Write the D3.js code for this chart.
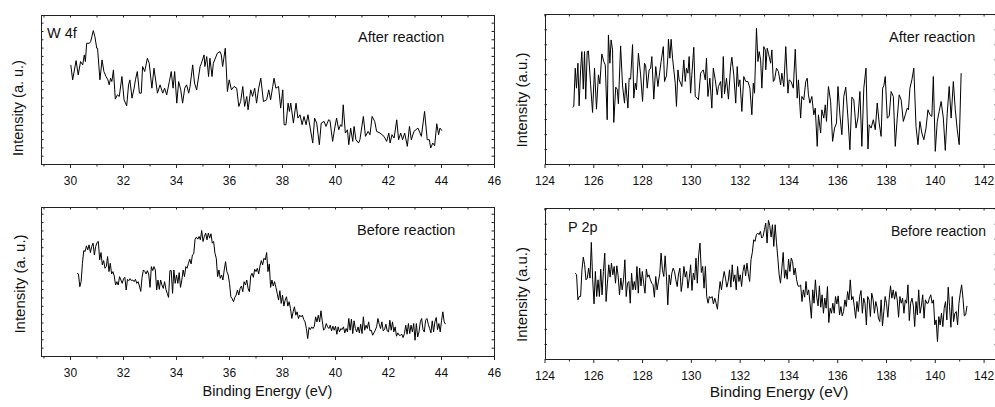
<!DOCTYPE html>
<html>
<head>
<meta charset="utf-8">
<script src="https://cdn.jsdelivr.net/npm/d3@7"></script>
<style>
  body { margin: 0; background: #fff; }
  svg { display: block; font-family: Arial, "Liberation Sans", sans-serif; }
</style>
</head>
<body>
<script>
var WIDTH = 995;
var HEIGHT = 407;

// W 4f, after reaction (binding energy in eV, intensity in a.u.)
var w4fAfterE = [
  30.03,30.10,30.23,30.31,30.40,30.48,30.54,30.58,30.63,30.73,
  30.78,30.88,30.94,31.01,31.04,31.13,31.21,31.28,31.36,31.43,
  31.48,31.53,31.58,31.64,31.71,31.79,31.86,31.96,32.04,32.14,
  32.21,32.26,32.34,32.42,32.47,32.54,32.62,32.69,32.74,32.82,
  32.92,32.99,33.09,33.17,33.30,33.40,33.50,33.57,33.65,33.75,
  33.82,33.89,33.95,34.03,34.10,34.18,34.25,34.33,34.40,34.48,
  34.53,34.63,34.70,34.78,34.91,34.96,35.06,35.09,35.16,35.23,
  35.28,35.36,35.41,35.56,35.66,35.71,35.76,35.86,35.94,36.01,
  36.09,36.19,36.29,36.37,36.44,36.52,36.59,36.67,36.72,36.82,
  36.89,36.97,37.04,37.12,37.20,37.30,37.42,37.50,37.57,37.65,
  37.70,37.77,37.87,37.95,38.03,38.08,38.15,38.23,38.28,38.33,
  38.43,38.53,38.60,38.68,38.76,38.83,38.91,38.98,39.16,39.23,
  39.31,39.41,39.48,39.59,39.66,39.76,39.81,39.91,39.99,40.06,
  40.14,40.21,40.26,40.31,40.39,40.47,40.52,40.59,40.67,40.72,
  40.79,40.89,40.94,41.07,41.15,41.25,41.32,41.40,41.50,41.57,
  41.70,41.85,41.95,42.03,42.08,42.15,42.23,42.33,42.40,42.48,
  42.55,42.63,42.73,42.81,42.88,42.98,43.13,43.26,43.38,43.48,
  43.56,43.61,43.69,43.76,43.84,43.91,43.96,44.04
];
var w4fAfterI = [
  298,253,311,268,308,298,328,308,363,363,
  368,401,383,348,348,253,313,278,263,253,
  238,258,248,283,195,208,203,263,193,175,
  238,253,198,228,253,278,213,213,293,278,
  318,303,228,288,213,238,213,228,208,248,
  278,228,278,183,248,223,183,228,238,213,
  233,298,243,223,293,303,328,293,323,263,
  318,263,303,333,338,328,293,348,218,253,
  223,233,228,173,188,233,173,203,163,223,
  203,228,183,228,258,188,193,223,193,233,
  258,228,233,168,223,118,118,183,158,183,
  123,183,138,148,118,143,118,148,63,138,
  123,58,123,128,113,133,131,68,108,138,
  103,118,113,178,93,103,58,108,68,113,
  73,63,73,143,83,98,88,143,128,98,
  93,83,68,93,63,88,78,133,73,93,
  73,93,53,113,73,98,108,83,158,73,
  73,48,63,55,121,88,108,100
];

// P 2p, after reaction
var p2pAfterE = [
  125.15,125.20,125.26,125.31,125.37,125.42,125.48,125.53,125.59,125.64,
  125.69,125.75,125.80,125.89,125.97,126.05,126.13,126.21,126.27,126.35,
  126.43,126.49,126.57,126.62,126.68,126.73,126.79,126.84,126.92,126.98,
  127.03,127.12,127.20,127.28,127.33,127.42,127.47,127.53,127.61,127.66,
  127.72,127.77,127.85,127.94,128.02,128.10,128.15,128.21,128.29,128.35,
  128.40,128.48,128.56,128.65,128.70,128.78,128.87,128.92,129.00,129.06,
  129.08,129.14,129.19,129.25,129.36,129.41,129.47,129.52,129.58,129.63,
  129.71,129.77,129.82,129.88,129.93,129.99,130.04,130.12,130.18,130.26,
  130.31,130.40,130.45,130.51,130.59,130.64,130.70,130.78,130.86,130.92,
  131.00,131.08,131.13,131.22,131.27,131.33,131.38,131.46,131.54,131.63,
  131.68,131.76,131.84,131.90,131.95,132.01,132.09,132.17,132.25,132.34,
  132.42,132.50,132.56,132.61,132.69,132.75,132.80,132.86,132.91,132.99,
  133.05,133.07,133.13,133.18,133.27,133.32,133.38,133.43,133.51,133.59,
  133.68,133.73,133.81,133.89,133.98,134.03,134.11,134.20,134.28,134.36,
  134.41,134.50,134.55,134.63,134.71,134.77,134.82,134.88,134.96,135.04,
  135.10,135.18,135.23,135.32,135.37,135.45,135.51,135.56,135.64,135.73,
  135.81,135.89,135.97,136.03,136.11,136.19,136.27,136.35,136.44,136.52,
  136.60,136.68,136.77,136.85,136.93,137.01,137.09,137.18,137.26,137.31,
  137.39,137.48,137.56,137.64,137.72,137.80,137.86,137.91,137.97,138.05,
  138.13,138.21,138.30,138.38,138.46,138.54,138.62,138.71,138.79,138.87,
  138.92,138.98,139.06,139.14,139.23,139.31,139.39,139.47,139.55,139.64,
  139.72,139.80,139.88,139.94,140.02,140.10,140.18,140.26,140.35,140.43,
  140.51,140.59,140.67,140.76,140.84,140.92,141.00,141.08
];
var p2pAfterI = [
  171,173,288,228,303,175,283,338,225,338,
  195,338,340,238,155,288,165,268,241,331,
  308,298,133,388,303,373,343,125,231,225,
  181,355,235,183,243,168,258,255,359,198,
  243,223,333,268,188,303,295,228,283,288,
  323,195,293,233,263,308,353,248,265,325,
  375,318,375,318,243,173,283,253,243,233,
  313,248,288,273,323,213,268,351,203,198,
  193,273,278,283,253,318,203,258,168,288,
  253,208,233,248,198,323,211,258,195,293,
  321,268,183,293,233,253,158,263,248,248,
  228,148,243,213,408,308,338,313,228,353,
  343,283,348,333,303,343,248,253,288,278,
  238,273,233,353,213,253,248,228,345,198,
  253,138,203,193,248,258,208,183,203,148,
  168,53,148,93,163,138,178,128,233,188,
  68,108,123,233,148,88,203,231,138,43,
  201,193,108,138,218,53,228,288,45,118,
  108,133,103,183,123,83,228,235,263,138,
  143,218,203,53,138,208,193,128,148,168,
  163,228,253,288,113,58,128,93,73,108,
  163,148,143,263,38,128,158,188,138,41,
  153,233,138,248,163,103,58,273
];

// W 4f, before reaction
var w4fBeforeE = [
  30.27,30.32,30.37,30.42,30.47,30.52,30.57,30.62,30.67,30.72,
  30.77,30.82,30.87,30.92,30.97,31.02,31.07,31.12,31.17,31.22,
  31.27,31.32,31.37,31.42,31.47,31.52,31.57,31.62,31.67,31.72,
  31.77,31.82,31.87,31.92,31.97,32.02,32.07,32.12,32.17,32.22,
  32.27,32.32,32.37,32.42,32.47,32.52,32.57,32.62,32.67,32.72,
  32.77,32.82,32.87,32.92,32.97,33.02,33.07,33.12,33.17,33.22,
  33.27,33.32,33.37,33.42,33.47,33.52,33.57,33.62,33.67,33.72,
  33.77,33.82,33.87,33.92,33.97,34.02,34.07,34.12,34.17,34.22,
  34.27,34.32,34.37,34.42,34.47,34.52,34.57,34.62,34.67,34.72,
  34.77,34.82,34.87,34.92,34.97,35.02,35.07,35.12,35.17,35.22,
  35.27,35.32,35.37,35.42,35.47,35.52,35.57,35.62,35.67,35.72,
  35.77,35.82,35.87,35.92,35.97,36.02,36.07,36.12,36.17,36.22,
  36.27,36.32,36.37,36.42,36.47,36.52,36.57,36.62,36.67,36.72,
  36.77,36.82,36.87,36.92,36.97,37.02,37.07,37.12,37.17,37.22,
  37.27,37.32,37.37,37.42,37.47,37.52,37.57,37.62,37.67,37.72,
  37.77,37.82,37.87,37.92,37.97,38.02,38.07,38.12,38.17,38.22,
  38.27,38.32,38.37,38.42,38.47,38.52,38.57,38.62,38.67,38.72,
  38.77,38.82,38.87,38.92,38.97,39.02,39.07,39.12,39.17,39.22,
  39.27,39.32,39.37,39.42,39.47,39.52,39.57,39.62,39.67,39.72,
  39.77,39.82,39.87,39.92,39.97,40.02,40.07,40.12,40.17,40.22,
  40.27,40.32,40.37,40.42,40.47,40.52,40.57,40.62,40.67,40.72,
  40.77,40.82,40.87,40.92,40.97,41.02,41.07,41.12,41.17,41.22,
  41.27,41.32,41.37,41.42,41.47,41.52,41.57,41.62,41.67,41.72,
  41.77,41.82,41.87,41.92,41.97,42.02,42.07,42.12,42.17,42.22,
  42.27,42.32,42.37,42.42,42.47,42.52,42.57,42.62,42.67,42.72,
  42.77,42.82,42.87,42.92,42.97,43.02,43.07,43.12,43.17,43.22,
  43.27,43.32,43.37,43.42,43.47,43.52,43.57,43.62,43.67,43.72,
  43.77,43.82,43.87,43.92,43.97,44.02,44.07,44.12,44.17
];
var w4fBeforeI = [
  247,245,207,222,277,315,312,329,317,332,
  309,327,337,302,327,339,342,287,309,272,
  285,262,267,297,252,277,245,252,239,212,
  222,212,237,227,217,231,235,197,229,225,
  231,225,227,222,229,217,222,209,193,235,
  257,253,245,255,245,205,267,255,267,257,
  197,227,199,227,212,202,222,199,187,175,
  255,255,187,257,217,242,217,249,205,227,
  257,237,267,262,277,289,275,302,305,349,
  355,349,357,347,375,342,357,367,347,367,
  352,365,337,342,307,292,237,257,232,242,
  227,257,282,252,242,217,177,171,162,175,
  182,197,182,202,209,192,222,212,227,202,
  192,239,247,235,259,252,262,245,269,285,
  272,292,287,309,252,275,205,227,209,222,
  205,187,167,195,157,182,149,167,177,149,
  162,142,112,132,147,122,132,112,122,117,
  122,109,102,82,52,85,79,87,82,89,
  117,102,122,102,135,105,77,82,97,87,
  82,92,75,89,77,89,65,87,72,82,
  79,87,69,82,72,112,77,110,67,105,
  82,72,87,69,95,67,117,77,92,82,
  102,75,77,62,69,77,87,112,95,82,
  102,75,79,95,75,72,107,77,102,72,
  87,59,69,62,62,65,55,67,92,65,
  97,67,92,72,97,47,97,57,72,102,
  112,79,72,107,112,95,82,69,105,72,
  102,115,79,97,72,105,132,102,95
];

// P 2p, before reaction
var p2pBeforeE = [
  125.26,125.315,125.37,125.425,125.48,125.535,125.59,125.645,125.7,125.755,
  125.81,125.865,125.92,125.975,126.03,126.085,126.14,126.195,126.25,126.305,
  126.36,126.415,126.47,126.525,126.58,126.635,126.69,126.745,126.8,126.855,
  126.91,126.965,127.02,127.075,127.13,127.185,127.24,127.295,127.35,127.405,
  127.46,127.515,127.57,127.625,127.68,127.735,127.79,127.845,127.9,127.955,
  128.01,128.065,128.12,128.175,128.23,128.285,128.34,128.395,128.45,128.505,
  128.56,128.615,128.67,128.725,128.78,128.835,128.89,128.945,129,129.055,
  129.11,129.165,129.22,129.275,129.33,129.385,129.44,129.495,129.55,129.605,
  129.66,129.715,129.77,129.825,129.88,129.935,129.99,130.045,130.1,130.155,
  130.21,130.265,130.32,130.375,130.43,130.485,130.54,130.595,130.65,130.705,
  130.76,130.815,130.87,130.925,130.98,131.035,131.09,131.145,131.2,131.255,
  131.31,131.365,131.42,131.475,131.53,131.585,131.64,131.695,131.75,131.805,
  131.86,131.915,131.97,132.025,132.08,132.135,132.19,132.245,132.3,132.355,
  132.41,132.465,132.52,132.575,132.63,132.685,132.74,132.795,132.85,132.905,
  132.96,133.015,133.07,133.125,133.18,133.235,133.29,133.345,133.4,133.455,
  133.51,133.565,133.62,133.675,133.73,133.785,133.84,133.895,133.95,134.005,
  134.06,134.115,134.17,134.225,134.28,134.335,134.39,134.445,134.5,134.555,
  134.61,134.665,134.72,134.775,134.83,134.885,134.94,134.995,135.05,135.105,
  135.16,135.215,135.27,135.325,135.38,135.435,135.49,135.545,135.6,135.655,
  135.71,135.765,135.82,135.875,135.93,135.985,136.04,136.095,136.15,136.205,
  136.26,136.315,136.37,136.425,136.48,136.535,136.59,136.645,136.7,136.755,
  136.81,136.865,136.92,136.975,137.03,137.085,137.14,137.195,137.25,137.305,
  137.36,137.415,137.47,137.525,137.58,137.635,137.69,137.745,137.8,137.855,
  137.91,137.965,138.02,138.075,138.13,138.185,138.24,138.295,138.35,138.405,
  138.46,138.515,138.57,138.625,138.68,138.735,138.79,138.845,138.9,138.955,
  139.01,139.065,139.12,139.175,139.23,139.285,139.34,139.395,139.45,139.505,
  139.56,139.615,139.67,139.725,139.78,139.835,139.89,139.945,140,140.055,
  140.11,140.165,140.22,140.275,140.33,140.385,140.44,140.495,140.55,140.605,
  140.66,140.715,140.77,140.825,140.88,140.935,140.99,141.045,141.1,141.155,
  141.21,141.265,141.32
];
var p2pBeforeI = [
  257,252,177,187,187,267,305,282,237,242,
  272,242,349,237,165,262,187,237,187,269,
  192,262,317,172,227,282,245,287,252,277,
  227,279,249,192,242,207,237,297,187,227,
  232,167,257,207,232,207,277,197,272,219,
  262,227,197,269,245,252,237,227,222,185,
  247,207,232,255,317,267,247,309,247,162,
  252,222,257,272,262,237,217,255,272,202,
  232,277,245,262,212,242,282,205,257,237,
  302,227,312,347,259,277,212,277,187,167,
  187,182,187,165,182,167,149,197,232,207,
  237,262,242,215,232,267,215,282,232,252,
  207,277,232,252,217,262,282,249,287,255,
  232,297,319,357,352,372,377,372,382,362,
  367,387,407,347,415,399,365,402,337,402,
  349,302,252,227,272,319,242,267,239,299,
  262,302,292,252,272,237,219,217,222,172,
  207,185,232,192,207,167,122,207,167,237,
  185,159,219,155,192,137,182,152,217,109,
  152,137,167,137,187,165,189,132,157,129,
  142,177,157,202,177,237,177,187,157,122,
  172,142,187,205,137,182,167,102,187,177,
  127,197,179,137,172,155,122,112,177,99,
  142,187,167,125,179,219,182,207,179,202,
  177,125,187,167,182,137,177,167,222,115,
  167,182,159,97,172,132,207,137,159,192,
  122,177,167,167,182,192,167,177,102,117,
  52,127,102,137,97,152,172,117,215,157,
  95,187,112,137,142,102,167,197,222,182,
  129,132,159
];

// axis ticks (eV)
var wMajor = [30, 32, 34, 36, 38, 40, 42, 44, 46];
var wMinor = [29, 31, 33, 35, 37, 39, 41, 43, 45];
var pMajor = [124, 126, 128, 130, 132, 134, 136, 138, 140, 142];
var pMinor = [125, 127, 129, 131, 133, 135, 137, 139, 141];

var panels = [
  { e: w4fAfterE, v: w4fAfterI, left: 41, right: 494, top: 15, bottom: 164,
    xDomain: [28.906, 46], yMax: 448, yStep: 25, major: wMajor, minor: wMinor,
    ylab: "Intensity (a. u.)", ylabX: 23, ylabY: 108, ylabSize: 14.5,
    notes: [{ t: "W 4f", x: 47, y: 38, s: 14.5 }, { t: "After reaction", x: 358, y: 42, s: 14.5 }] },
  { e: p2pAfterE, v: p2pAfterI, left: 544.5, right: 997, top: 14, bottom: 164,
    xDomain: [124, 142.55], yMax: 451, yStep: 45, major: pMajor, minor: pMinor,
    ylab: "Intensity (a.u.)", ylabX: 527, ylabY: 100, ylabSize: 15,
    notes: [{ t: "After reaction", x: 889, y: 41.5, s: 14.5 }] },
  { e: w4fBeforeE, v: w4fBeforeI, left: 41, right: 494, top: 207, bottom: 356,
    xDomain: [28.906, 46], yMax: 445, yStep: 25, major: wMajor, minor: wMinor,
    ylab: "Intensity (a. u.)", ylabX: 25, ylabY: 284, ylabSize: 15,
    xlab: "Binding Energy (eV)", xlabX: 267.5, xlabY: 396, xlabSize: 14.5,
    notes: [{ t: "Before reaction", x: 357, y: 235, s: 14.5 }] },
  { e: p2pBeforeE, v: p2pBeforeI, left: 544.5, right: 997, top: 208, bottom: 359,
    xDomain: [124, 142.55], yMax: 452, yStep: 45, major: pMajor, minor: pMinor,
    ylab: "Intensity (a.u.)", ylabX: 527, ylabY: 294.5, ylabSize: 15,
    xlab: "Binding Energy (eV)", xlabX: 779, xlabY: 397, xlabSize: 15.5,
    notes: [{ t: "P 2p", x: 568, y: 232, s: 14.5 }, { t: "Before reaction", x: 891, y: 236, s: 14 }] }
];

var svg = d3.select("body")
  .append("svg")
  .attr("width", WIDTH)
  .attr("height", HEIGHT);

function drawPanel(p) {
  var g = svg.append("g");

  var x = d3.scaleLinear().domain(p.xDomain).range([p.left, p.right]);
  var y = d3.scaleLinear().domain([0, p.yMax]).range([p.bottom, p.top]);
  var yTicks = d3.range(p.yStep, p.yMax, p.yStep);

  // labelled ticks below the frame
  var ax = g.append("g")
    .attr("transform", "translate(0," + p.bottom + ")")
    .call(d3.axisBottom(x).tickValues(p.major).tickSize(4).tickPadding(8).tickFormat(d3.format("d")));
  ax.select(".domain").remove();
  ax.selectAll("text")
    .attr("font-size", 12)
    .attr("font-family", "Arial, 'Liberation Sans', sans-serif")
    .attr("fill", "#111");

  var minor = g.append("g")
    .attr("transform", "translate(0," + p.bottom + ")")
    .call(d3.axisBottom(x).tickValues(p.minor).tickSize(2.5).tickFormat(""));
  minor.select(".domain").remove();

  // inward ticks on top edge
  var topAx = g.append("g")
    .attr("transform", "translate(0," + p.top + ")")
    .call(d3.axisBottom(x).tickValues(p.major.concat(p.minor)).tickSize(2.5).tickFormat(""));
  topAx.select(".domain").remove();

  // inward ticks on left and right edges, no labels
  var leftAx = g.append("g")
    .attr("transform", "translate(" + p.left + ",0)")
    .call(d3.axisRight(y).tickValues(yTicks).tickSize(2.5).tickFormat(""));
  leftAx.select(".domain").remove();

  var rightAx = g.append("g")
    .attr("transform", "translate(" + p.right + ",0)")
    .call(d3.axisLeft(y).tickValues(yTicks).tickSize(2.5).tickFormat(""));
  rightAx.select(".domain").remove();

  g.selectAll(".tick line").attr("stroke", "#222");

  g.append("rect")
    .attr("x", Math.round(p.left) + 0.5)
    .attr("y", Math.round(p.top) + 0.5)
    .attr("width", Math.round(p.right) - Math.round(p.left))
    .attr("height", Math.round(p.bottom) - Math.round(p.top))
    .attr("fill", "none")
    .attr("stroke", "#222")
    .attr("stroke-width", 1);

  var line = d3.line()
    .x(function (d, i) { return x(p.e[i]); })
    .y(function (d) { return y(d); });

  g.append("path")
    .datum(p.v)
    .attr("d", line)
    .attr("fill", "none")
    .attr("stroke", "#000")
    .attr("stroke-width", 1)
    .attr("stroke-linejoin", "miter");

  g.append("text")
    .attr("transform", "translate(" + p.ylabX + "," + p.ylabY + ") rotate(-90)")
    .attr("text-anchor", "middle")
    .attr("font-size", p.ylabSize)
    .attr("fill", "#111")
    .text(p.ylab);

  if (p.xlab) {
    g.append("text")
      .attr("x", p.xlabX)
      .attr("y", p.xlabY)
      .attr("text-anchor", "middle")
      .attr("font-size", p.xlabSize)
      .attr("fill", "#111")
      .text(p.xlab);
  }

  p.notes.forEach(function (n) {
    g.append("text")
      .attr("x", n.x)
      .attr("y", n.y)
      .attr("font-size", n.s)
      .attr("fill", "#111")
      .text(n.t);
  });
}

panels.forEach(drawPanel);
</script>
</body>
</html>
